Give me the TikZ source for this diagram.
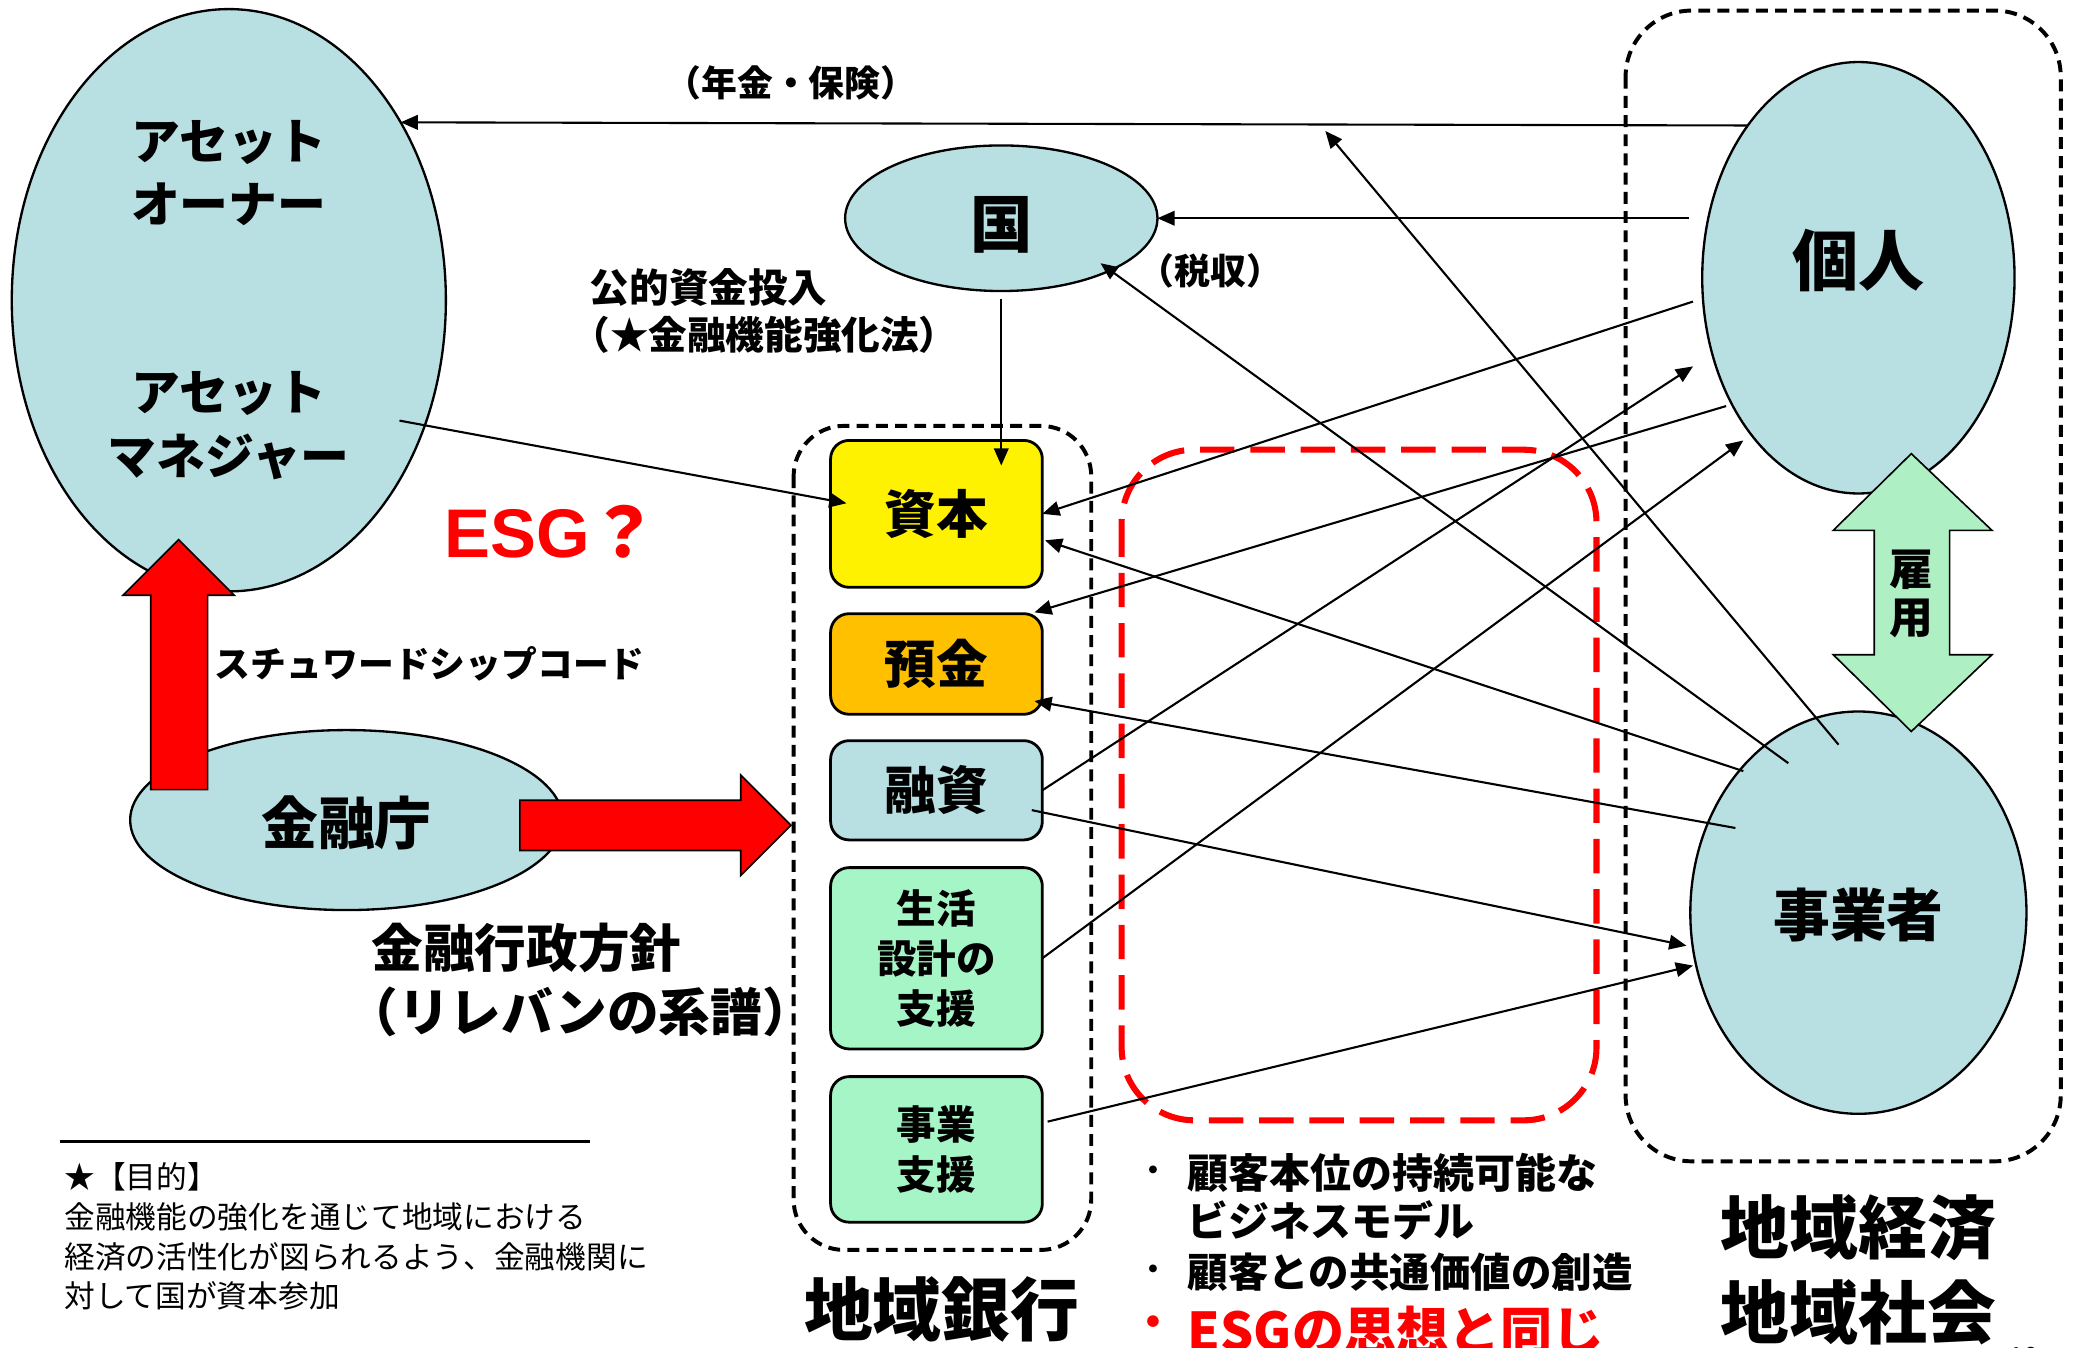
\documentclass[tikz,border=0pt]{standalone}
\usepackage{fontspec}
\setmainfont{Noto Sans CJK JP}
\newfontfamily\arialb{Liberation Sans}
\usetikzlibrary{shapes.geometric,arrows.meta,calc}
\definecolor{lblue}{RGB}{184,223,226}
\definecolor{lgreen}{RGB}{166,245,198}
\definecolor{egreen}{RGB}{174,240,195}
\definecolor{orng}{RGB}{255,192,0}
\newcommand{\myfs}[2]{\fontsize{#1pt}{#2pt}\selectfont}
\begin{document}
\begin{tikzpicture}[x=0.01cm,y=-0.01cm,
  ell/.style={ellipse,draw=black,line width=0.5pt,fill=lblue,inner sep=0pt,outer sep=0pt},
  lbl/.style={inner sep=0pt,outer sep=0pt,align=center,font=\bfseries},
  bbox/.style={rectangle,rounded corners=0.14cm,draw=black,line width=0.6pt,minimum width=1.60cm,inner sep=0pt,outer sep=0pt,align=center,font=\bfseries},
  arr/.style={-{Triangle[length=0.13cm,width=0.11cm]},line width=0.45pt},
  kdash/.style={draw=black,line width=0.85pt,dash pattern=on 0.09cm off 0.055cm},
  rdash/.style={draw=red,line width=1.3pt,dash pattern=on 0.26cm off 0.12cm},
  blk/.style={draw=black,line width=0.35pt}
]
\useasboundingbox (0,0) rectangle (1568,1019);
\fill[white] (0,0) rectangle (1568,1019);

% ellipses
\node[ell,minimum width=3.28cm,minimum height=4.40cm] (ao) at (173,227) {};
\node[ell,minimum width=2.36cm,minimum height=1.10cm] (kuni) at (757,165) {};
\node[ell,minimum width=2.36cm,minimum height=3.26cm] (kojin) at (1405,210) {};
\node[ell,minimum width=2.54cm,minimum height=3.04cm] (jigyo) at (1405,690) {};
\node[ell,minimum width=3.27cm,minimum height=1.36cm] (fsa) at (262,620) {};

\node[lbl,font=\bfseries\myfs{10.5}{13.66}] (aot) at (173,131) {アセット\\オーナー};
\node[lbl,font=\bfseries\myfs{10.5}{13.66}] (amt) at (173,322) {アセット\\マネジャー};
\node[lbl,font=\bfseries\myfs{13.4}{16}] (kunit) at (757,170) {国};
\node[lbl,font=\bfseries\myfs{14.2}{17}] (kojint) at (1405,197) {個人};
\node[lbl,font=\bfseries\myfs{12.2}{15}] (jigyot) at (1405,692) {事業者};
\node[lbl,font=\bfseries\myfs{12.2}{15}] (fsat) at (262,622) {金融庁};

% dashed groups
\draw[kdash,rounded corners=0.38cm] (600,322) rectangle (825,945);
\draw[kdash,rounded corners=0.5cm] (1229,8) rectangle (1558,878);
\draw[rdash,rounded corners=0.55cm] (848,340) rectangle (1207,847);

% bank boxes
\node[bbox,fill=yellow,minimum height=1.11cm,font=\bfseries\myfs{11.1}{13}] (shihon) at (708,388.5) {資本};
\node[bbox,fill=orng,minimum height=0.76cm,font=\bfseries\myfs{11.1}{13}] (yokin) at (708,502) {預金};
\node[bbox,fill=lblue,minimum height=0.75cm,font=\bfseries\myfs{11.1}{13}] (yushi) at (708,597.5) {融資};
\node[bbox,fill=lgreen,minimum height=1.37cm,font=\bfseries\myfs{8.5}{10.7}] (seikatsu) at (708,724.5) {生活\\設計の\\支援};
\node[bbox,fill=lgreen,minimum height=1.10cm,font=\bfseries\myfs{8.5}{10.8}] (jshien) at (708,869) {事業\\支援};

% block arrows
\filldraw[fill=red,blk] (135,408) -- (177,450) -- (157,450) -- (157,597) -- (114,597) -- (114,450) -- (93,450) -- cycle;
\filldraw[fill=red,blk] (598,624) -- (560,662) -- (560,643) -- (393,643) -- (393,605) -- (560,605) -- (560,586) -- cycle;
\filldraw[fill=egreen,blk] (1445,343) -- (1506,401) -- (1474,401) -- (1474,495) -- (1506,495) -- (1445,553) -- (1386,495) -- (1417,495) -- (1417,401) -- (1386,401) -- cycle;
\node[lbl,font=\bfseries\myfs{9.4}{10.5}] (koyo) at (1445,449) {雇\\用};

% connectors
\draw[arr] (kojin.126) -- (ao.46);
\coordinate (pen) at (1002,99);
\draw[arr] ([xshift=-0.1cm]kuni.east -| kojin.west) -- (kuni.east);
\draw[arr] ([yshift=-0.06cm]kuni.south) -- ([yshift=-0.19cm]kuni.south |- shihon.north);
\draw[arr] ($(ao.center)+(129,91)$) -- ($(shihon.west)+(12,-8)$);
\draw[arr] ($(kojin.west)+(-7,18)$) -- (shihon.east);
\draw[arr] ($(kojin.center)+(-100,97)$) -- ($(yokin.north east)+(-6,-1)$);
\draw[arr] (yushi.east) -- ($(kojin.center)+(-125,67)$);
\draw[arr] (seikatsu.east) -- ($(kojin.center)+(-87,123)$);
\draw[arr] ($(jigyo.center)+(-87,-107)$) -- ($(shihon.east)+(2,20)$);
\draw[arr] ($(jigyo.center)+(-93,-64)$) -- ($(yokin.south east)+(-6,-10)$);
\draw[arr] ($(yushi.east)+(-8,15)$) -- ($(jigyo.center)+(-130,25)$);
\draw[arr] ($(jshien.east)+(4,-21)$) -- ($(jigyo.center)+(-125,40)$);
\draw[arr] ($(jigyo.center)+(-53,-113)$) -- ($(kuni.center)+(75,34)$);
\draw[arr] ($(jigyo.center)+(-15,-127)$) -- (pen);

% labels
\node[lbl,font=\bfseries\myfs{7.7}{9}] (nenkin) at (598,63) {（年金・保険）};
\node[lbl,font=\bfseries\myfs{8.5}{10},anchor=west] (kouteki) at (446,217) {公的資金投入};
\node[lbl,font=\bfseries\myfs{8.3}{10},anchor=west] (kyoka) at (432,253) {（★金融機能強化法）};
\node[lbl,font=\bfseries\myfs{7.7}{9}] (zeishu) at (915,205) {（税収）};
\node[lbl,text=red,font=\bfseries\myfs{14.8}{17}] (esgq) at (417,402) {{\arialb\bfseries ESG}？};
\node[lbl,font=\bfseries\myfs{7.7}{9}] (sscode) at (325,502) {スチュワードシップコード};
\node[lbl,font=\bfseries\myfs{11.1}{13},anchor=west] (gyosei) at (281,717) {金融行政方針};
\node[lbl,font=\bfseries\myfs{11.1}{13},anchor=west] (relban) at (262,765) {（リレバンの系譜）};

\draw[line width=0.6pt] (45,863) -- (446,863);
\node[inner sep=0pt,anchor=west,font=\myfs{6.6}{8.5}] (fn1) at (48,890) {★【目的】};
\node[inner sep=0pt,anchor=west,font=\myfs{6.6}{8.5}] (fn2) at (48,920) {金融機能の強化を通じて地域における};
\node[inner sep=0pt,anchor=west,font=\myfs{6.6}{8.5}] (fn3) at (48,950) {経済の活性化が図られるよう、金融機関に};
\node[inner sep=0pt,anchor=west,font=\myfs{6.6}{8.5}] (fn4) at (48,980) {対して国が資本参加};

\node[lbl,font=\bfseries\myfs{14.8}{17}] (chiginko) at (712,990) {地域銀行};
\node[lbl,font=\bfseries\myfs{14.8}{18.2}] (chiiki) at (1405,960) {地域経済\\地域社会};

\node[lbl,font=\bfseries\myfs{6}{7}] (d1) at (872,887) {・};
\node[lbl,font=\bfseries\myfs{8.8}{10},anchor=west] (b1) at (898,887) {顧客本位の持続可能な};
\node[lbl,font=\bfseries\myfs{8.8}{10},anchor=west] (b2) at (898,923) {ビジネスモデル};
\node[lbl,font=\bfseries\myfs{6}{7}] (d2) at (872,962) {・};
\node[lbl,font=\bfseries\myfs{8.7}{10},anchor=west] (b3) at (898,962) {顧客との共通価値の創造};
\node[lbl,text=red,font=\bfseries\myfs{9}{10}] (d3) at (872,1003) {・};
\node[lbl,text=red,font=\bfseries\myfs{11.2}{13},anchor=west] (b4) at (898,1006) {ESGの思想と同じ};
\node[inner sep=0pt,font=\myfs{6}{7}] (pg) at (1530,1026) {10};
\end{tikzpicture}
\end{document}
